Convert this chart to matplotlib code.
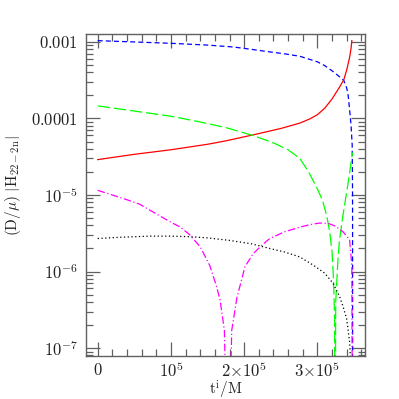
import matplotlib
matplotlib.use("Agg")
import matplotlib.pyplot as plt
from matplotlib.ticker import FixedLocator, NullFormatter

plt.rcParams['mathtext.fontset'] = 'cm'
plt.rcParams['font.family'] = ['DejaVu Serif']

# Data (t in units of 1e5 M, values of (D/mu)|H|)
blue_t = [0, 0.5, 1.0, 1.5, 1.85, 2.1, 2.31, 2.55, 2.76, 2.9, 3.0, 3.1, 3.2, 3.28, 3.36,
          3.40, 3.42, 3.44, 3.46, 3.475, 3.48, 3.482]
blue_v = [1.04e-3, 1.0e-3, 9.6e-4, 9.1e-4, 8.6e-4, 8.0e-4, 7.5e-4, 7.0e-4, 6.5e-4, 5.9e-4,
          5.5e-4, 4.9e-4, 4.2e-4, 3.65e-4, 3.15e-4, 2.5e-4, 2.0e-4, 1.3e-4, 8e-5, 4.5e-5,
          1e-5, 1e-9]

red_t = [0, 0.5, 1.0, 1.5, 1.75, 2.12, 2.5, 2.76, 2.9, 3.0, 3.1, 3.2, 3.3, 3.36, 3.40,
         3.44, 3.46, 3.47]
red_v = [2.9e-5, 3.4e-5, 3.9e-5, 4.6e-5, 5.1e-5, 6.1e-5, 7.4e-5, 8.7e-5, 9.9e-5, 1.12e-4,
         1.36e-4, 1.8e-4, 2.55e-4, 3.2e-4, 4.3e-4, 6.3e-4, 8.3e-4, 1.04e-3]

green_t = [0, 0.5, 1.0, 1.4, 1.75, 2.12, 2.4, 2.6, 2.76, 2.88, 3.0, 3.07, 3.13, 3.17, 3.20,
           3.22, 3.235, 3.24, 3.25, 3.28, 3.30, 3.35, 3.42, 3.48]
green_v = [1.46e-4, 1.25e-4, 1.07e-4, 9.0e-5, 7.6e-5, 6.0e-5, 4.8e-5, 3.9e-5, 3.0e-5,
           2.0e-5, 1.2e-5, 8.5e-6, 5.2e-6, 3.2e-6, 1.8e-6, 8e-7, 2.5e-7, 1e-9, 4e-7,
           1.4e-6, 2.5e-6, 5.5e-6, 1.45e-5, 3.6e-5]

mag_t = [0, 0.2, 0.41, 0.57, 0.81, 1.0, 1.13, 1.26, 1.40, 1.53, 1.62, 1.67, 1.73, 1.78,
         1.83, 1.90, 2.01, 2.12, 2.24, 2.35, 2.55, 2.76, 2.9, 3.03, 3.15, 3.25, 3.35, 3.44,
         3.47, 3.48]
mag_v = [1.15e-5, 1.0e-5, 8.6e-6, 7.6e-6, 5.6e-6, 4.4e-6, 3.8e-6, 3.0e-6, 2.1e-6, 1.2e-6,
         6.5e-7, 4.3e-7, 1.7e-7, 1e-9, 1.7e-7, 4.5e-7, 1.15e-6, 1.7e-6, 2.2e-6, 2.7e-6,
         3.3e-6, 3.8e-6, 4.1e-6, 4.3e-6, 4.25e-6, 3.9e-6, 3.3e-6, 2.6e-6, 1.2e-6, 1e-9]

black_t = [0, 0.3, 0.71, 1.0, 1.26, 1.5, 1.8, 2.1, 2.35, 2.55, 2.76, 2.95, 3.1, 3.21, 3.3,
           3.35, 3.40, 3.44, 3.46, 3.47]
black_v = [2.7e-6, 2.8e-6, 2.9e-6, 2.9e-6, 2.85e-6, 2.75e-6, 2.55e-6, 2.3e-6, 2.0e-6,
           1.8e-6, 1.55e-6, 1.2e-6, 9.5e-7, 7.1e-7, 4.8e-7, 3.5e-7, 2.4e-7, 1.2e-7, 5e-8, 1e-9]

t_unit = 1e5
xticks = [0, 1e5, 2e5, 3e5]
xticklabels = [r'$0$', r'$10^5$', r'$2{\times}10^5$', r'$3{\times}10^5$']
yticks = [1e-7, 1e-6, 1e-5, 1e-4, 1e-3]
yticklabels = [r'$10^{-7}$', r'$10^{-6}$', r'$10^{-5}$', r'$0.0001$', r'$0.001$']

fig = plt.figure(figsize=(3.99, 3.99), dpi=100)
ax = fig.add_axes([0.2155, 0.1078, 0.6993, 0.807])

def sc(ts):
    return [t * t_unit for t in ts]

lw = 0.9
ax.plot(sc(blue_t), blue_v, color='#0000ff', lw=lw, dashes=(4, 2.5))
ax.plot(sc(red_t), red_v, color='#ff0000', lw=lw)
ax.plot(sc(green_t), green_v, color='#00ff00', lw=lw, dashes=(10, 3))
ax.plot(sc(mag_t), mag_v, color='#ff00ff', lw=lw, dashes=(6, 2, 1, 2))
ax.plot(sc(black_t), black_v, color='black', lw=lw, dashes=(1, 2))

ax.set_yscale('log')
ax.set_xlim(-1.6e4, 3.65e5)
ax.set_ylim(10**-7.104, 10**-2.896)

ax.xaxis.set_major_locator(FixedLocator(xticks))
ax.set_xticklabels(xticklabels)
ax.xaxis.set_minor_locator(FixedLocator([i * 2e4 for i in range(0, 19)]))
ax.yaxis.set_major_locator(FixedLocator(yticks))
ax.set_yticklabels(yticklabels)
minors = [k * 10.0**e for e in range(-8, -2) for k in range(2, 10)]
ax.yaxis.set_minor_locator(FixedLocator(minors))
ax.yaxis.set_minor_formatter(NullFormatter())

gray = '#606060'
for s in ax.spines.values():
    s.set_color(gray)
    s.set_linewidth(1.0)
ax.tick_params(which='both', direction='in', top=True, right=True, color=gray, width=0.9,
               labelsize=12, labelcolor='#222222')
ax.tick_params(which='major', length=10, pad=6)
ax.tick_params(axis='x', which='major', pad=4)
ax.tick_params(which='minor', length=5)

ax.set_xlabel(r'$\mathrm{t^i/M}$', fontsize=11, color='#222222', labelpad=-1.5)
ax.set_ylabel(r'$(\mathrm{D}/\mu)\ |\mathrm{H}_{22-2\mathrm{n}}|$', fontsize=11,
              color='#222222')
ax.yaxis.set_label_coords(-0.225, 0.53)

fig.savefig('out.png', dpi=100)
